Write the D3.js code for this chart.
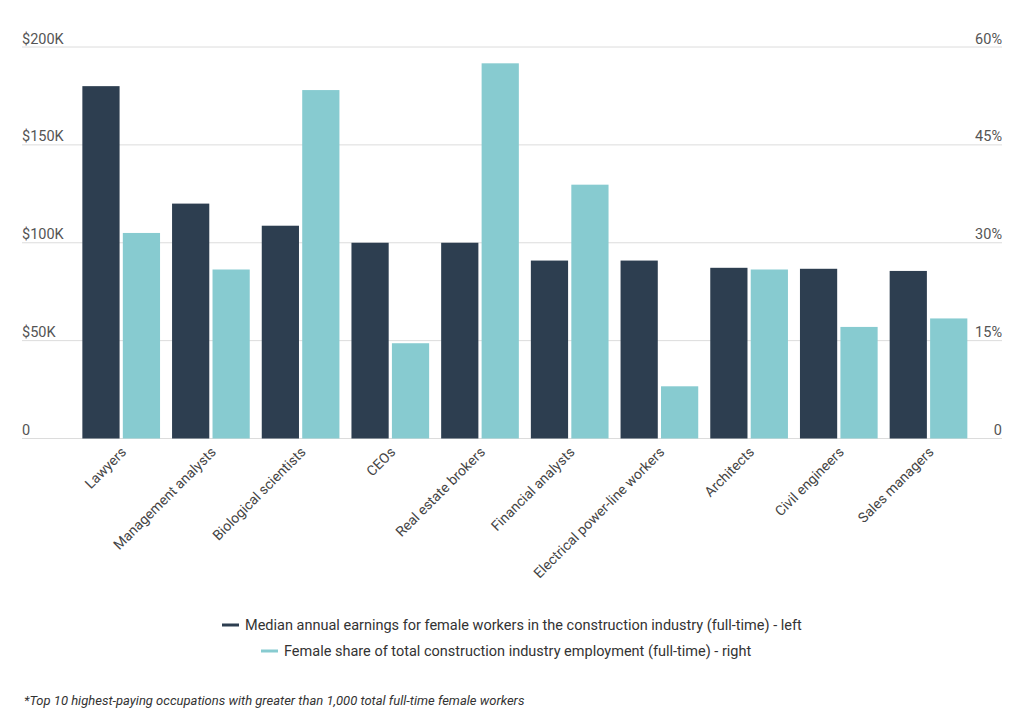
<!DOCTYPE html>
<html>
<head>
<meta charset="utf-8">
<script src="https://cdn.jsdelivr.net/npm/d3@7"></script>
<style>
  html, body { margin: 0; padding: 0; background: #fff; }
  svg { display: block; font-family: Roboto, "Noto Sans", sans-serif; }
</style>
</head>
<body>
<svg id="chart" width="1024" height="715"></svg>
<script>
const categories = ["Lawyers", "Management analysts", "Biological scientists", "CEOs", "Real estate brokers",
  "Financial analysts", "Electrical power-line workers", "Architects", "Civil engineers", "Sales managers"];
const earnings = [180000, 120000, 108700, 100000, 100000, 90900, 90900, 87200, 86700, 85600];
const femaleShare = [31.5, 25.9, 53.4, 14.6, 57.5, 38.9, 8.0, 25.9, 17.1, 18.4];
const leftTicks = [0, 50000, 100000, 150000, 200000];
const leftTickLabels = ["0", "$50K", "$100K", "$150K", "$200K"];
const rightTicks = [0, 15, 30, 45, 60];
const rightTickLabels = ["0", "15%", "30%", "45%", "60%"];
const seriesNames = ["Median annual earnings for female workers in the construction industry (full-time) - left",
  "Female share of total construction industry employment (full-time) - right"];
const footnote = "*Top 10 highest-paying occupations with greater than 1,000 total full-time female workers";

const colors = ["#2d3e50", "#87cbd0"];
const svg = d3.select("#chart");

const x0 = d3.scaleBand().domain(categories).range([76.35, 973.35]).paddingInner(0.134).paddingOuter(0.067);
const x1 = d3.scaleBand().domain([0, 1]).range([0, x0.bandwidth()]).paddingInner(0.08);
const yL = d3.scaleLinear().domain([0, 200000]).range([438.5, 47]);
const yR = d3.scaleLinear().domain([0, 60]).range([438.5, 47]);

const gridLeft = 22, gridRight = 1002;

// gridlines
svg.append("g").selectAll("line").data(leftTicks).join("line")
  .attr("x1", gridLeft).attr("x2", gridRight)
  .attr("y1", d => yL(d)).attr("y2", d => yL(d))
  .attr("stroke", "#dcdcdc").attr("stroke-width", 1);

// left tick labels
svg.append("g").selectAll("text").data(leftTicks).join("text")
  .attr("x", gridLeft).attr("y", d => yL(d) - 3.5)
  .attr("font-size", 14.5).attr("fill", "#555")
  .text((d, i) => leftTickLabels[i]);

// right tick labels
svg.append("g").selectAll("text").data(rightTicks).join("text")
  .attr("x", gridRight).attr("y", d => yR(d) - 3.5)
  .attr("text-anchor", "end")
  .attr("font-size", 14.5).attr("fill", "#555")
  .text((d, i) => rightTickLabels[i]);

// bars
const groups = svg.append("g").selectAll("g").data(categories).join("g")
  .attr("transform", d => `translate(${x0(d)},0)`);
groups.append("rect")
  .attr("x", x1(0)).attr("width", x1.bandwidth())
  .attr("y", (d, i) => yL(earnings[i]))
  .attr("height", (d, i) => yL(0) - yL(earnings[i]))
  .attr("fill", colors[0]);
groups.append("rect")
  .attr("x", x1(1)).attr("width", x1.bandwidth())
  .attr("y", (d, i) => yR(femaleShare[i]))
  .attr("height", (d, i) => yR(0) - yR(femaleShare[i]))
  .attr("fill", colors[1]);

// x labels
svg.append("g").selectAll("text").data(categories).join("text")
  .attr("transform", d => `translate(${x0(d) + x0.bandwidth() / 2 + 6},${453}) rotate(-45)`)
  .attr("text-anchor", "end")
  .attr("font-size", 14).attr("fill", "#444")
  .text(d => d);

// legend
const legend = [
  { x: 222, y: 625, tx: 245 },
  { x: 261, y: 651, tx: 284 }
];
legend.forEach((l, i) => {
  svg.append("line").attr("x1", l.x).attr("x2", l.x + 17).attr("y1", l.y).attr("y2", l.y)
    .attr("stroke", colors[i]).attr("stroke-width", 3);
  svg.append("text").attr("x", l.tx).attr("y", l.y + 5)
    .attr("font-size", 14.5).attr("fill", "#333").text(seriesNames[i]);
});

// footnote
svg.append("text").attr("x", 24).attr("y", 705)
  .attr("font-size", 13).attr("font-style", "italic").attr("fill", "#333")
  .text(footnote);
</script>
</body>
</html>
